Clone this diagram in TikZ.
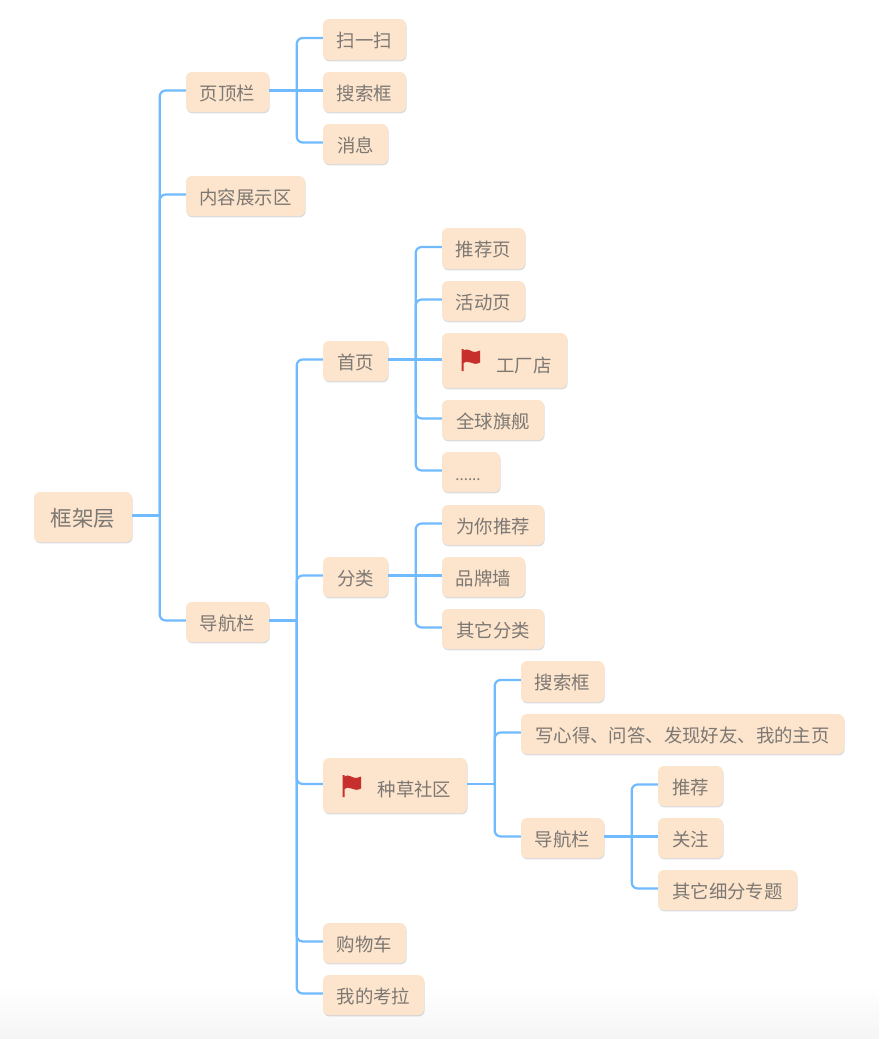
\documentclass[tikz,border=0pt]{standalone}
\usepackage{fontspec}
\setmainfont{Noto Sans CJK SC}
\usetikzlibrary{shadows}
\definecolor{boxfill}{HTML}{FDE4CC}
\definecolor{txt}{HTML}{7C7873}
\definecolor{linkc}{HTML}{70BBFF}
\definecolor{flagred}{HTML}{C62F2B}
\definecolor{floorc}{HTML}{F5F5F5}
\tikzset{
  box/.style={rounded corners=6pt,fill=boxfill,inner sep=0pt,text=txt,
    font=\fontsize{18.4pt}{20pt}\selectfont,text height=18pt,text depth=2pt,
    drop shadow={shadow xshift=.6pt,shadow yshift=-1.4pt,fill=black,opacity=.14}},
  sz/.style n args={2}{minimum width=#1pt,minimum height=#2pt},
  stem/.style={line width=2.6pt,draw=linkc},
  link/.style={line width=2.2pt,draw=linkc,rounded corners=6pt},
  flagmark/.style={fill=flagred,draw=none}
}
% the short stem out of a parent, up to its trunk
\newcommand{\trunkstem}[1]{\draw[stem] ([yshift=1.5pt]#1.east) -- ++(27.5,0);}
% a branch from the parent's trunk to a child
\newcommand{\conn}[2]{\draw[link] ([xshift=27.5pt,yshift=1.5pt]#1.east) |- ([yshift=1.5pt]#2.west);}
\newcommand{\connflat}[2]{\draw[stem] ([yshift=1.5pt]#1.east) -- ([yshift=1.5pt]#1.east -| #2.west);}
\newcommand{\flagmark}[1]{%
  \begin{scope}[shift={(#1)}]
    \path[flagmark] (0,0) -- (2,0) -- (2,1.5) .. controls (6,-1.5) and (10,3) .. (13,3)
      .. controls (15,3) and (17,2) .. (18.5,1.5) -- (18.5,13.5)
      .. controls (15,15.5) and (12,15) .. (9,13.5)
      .. controls (6,12) and (4,12.5) .. (2,14) -- (2,22) -- (0,22) -- cycle;
  \end{scope}}
\begin{document}
\begin{tikzpicture}[x=1pt,y=-1pt]
\useasboundingbox (0,0) rectangle (879,1039);
\fill[top color=white,bottom color=floorc] (0,985) rectangle (879,1039);

\path
  (83,517) node[box,sz={98}{50},font=\fontsize{21.5pt}{24pt}\selectfont,text height=21pt,text depth=3pt] (root) {框架层}
  (227.5,92) node[box,sz={83}{40}] (top) {页顶栏}
  (245.5,196) node[box,sz={119}{40}] (content) {内容展示区}
  (227.5,622) node[box,sz={83}{40}] (nav) {导航栏}
  (364.5,39.5) node[box,sz={83}{41}] (scan) {扫一扫}
  (364.5,92) node[box,sz={83}{40}] (search) {搜索框}
  (355.5,144) node[box,sz={65}{40}] (msg) {消息}
  (355.5,361) node[box,sz={65}{40}] (home) {首页}
  (355.5,577) node[box,sz={65}{40}] (cat) {分类}
  (395,785.5) node[box,sz={144}{55}] (grass) {\hspace*{39pt}\raisebox{-2.5pt}{种草社区}}
  (364.5,943) node[box,sz={83}{40}] (cart) {购物车}
  (373.5,995) node[box,sz={101}{40}] (mine) {我的考拉}
  (483.5,248.5) node[box,sz={83}{41}] (rec) {推荐页}
  (483.5,301) node[box,sz={83}{40}] (act) {活动页}
  (504.5,360.5) node[box,sz={125}{55}] (factory) {\hspace*{39pt}\raisebox{-4pt}{工厂店}}
  (493,420) node[box,sz={102}{40}] (flagship) {全球旗舰}
  (471,472) node[box,sz={58}{40},font=\fontsize{15pt}{16pt}\selectfont] (more) {......\hspace*{6pt}}
  (493,525) node[box,sz={102}{40}] (foryou) {为你推荐}
  (483.5,577) node[box,sz={83}{40}] (brand) {品牌墙}
  (493,629) node[box,sz={102}{40}] (othercat) {其它分类}
  (562.5,681.5) node[box,sz={83}{41}] (gsearch) {搜索框}
  (682.5,734) node[box,sz={323}{40}] (write) {写心得、问答、发现好友、我的主页}
  (562.5,838) node[box,sz={83}{40}] (gnav) {导航栏}
  (690.5,786) node[box,sz={65}{40}] (grec) {推荐}
  (690.5,838) node[box,sz={65}{40}] (gfollow) {关注}
  (727.5,890) node[box,sz={139}{40}] (gother) {其它细分专题};

\trunkstem{root}\conn{root}{top}\conn{root}{content}\conn{root}{nav}
\conn{top}{scan}\connflat{top}{search}\conn{top}{msg}
\trunkstem{nav}\conn{nav}{home}\conn{nav}{cat}\conn{nav}{grass}\conn{nav}{cart}\conn{nav}{mine}
\conn{home}{rec}\conn{home}{act}\connflat{home}{factory}\conn{home}{flagship}\conn{home}{more}
\conn{cat}{foryou}\connflat{cat}{brand}\conn{cat}{othercat}
\trunkstem{grass}\conn{grass}{gsearch}\conn{grass}{write}\conn{grass}{gnav}
\conn{gnav}{grec}\connflat{gnav}{gfollow}\conn{gnav}{gother}

\flagmark{461.5,349}
\flagmark{342.5,775}
\end{tikzpicture}
\end{document}
